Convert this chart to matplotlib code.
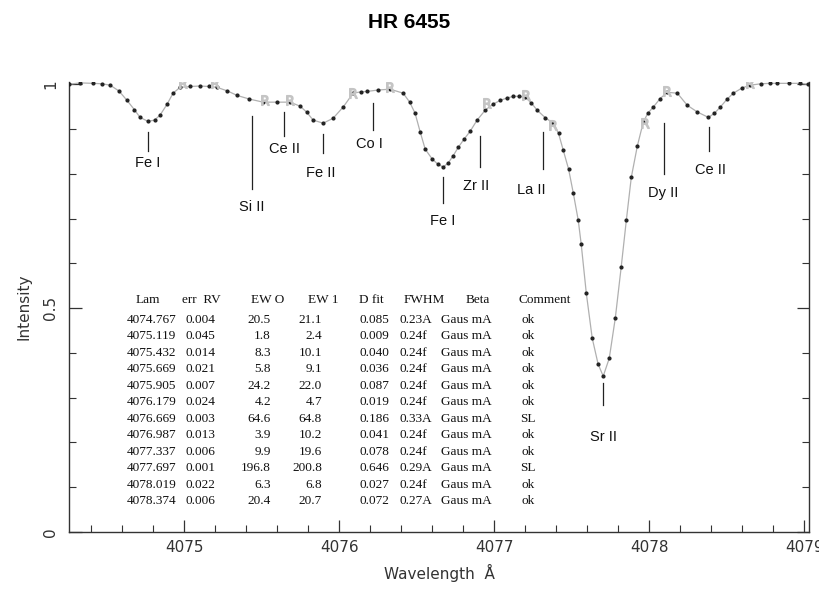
import matplotlib
matplotlib.use("Agg")
import matplotlib.pyplot as plt
from matplotlib.ticker import MultipleLocator, FixedLocator

wave = [4074.258, 4074.33, 4074.413, 4074.47, 4074.523, 4074.58, 4074.632, 4074.68,
        4074.716, 4074.768, 4074.81, 4074.845, 4074.89, 4074.929, 4074.974, 4075.04,
        4075.103, 4075.16, 4075.213, 4075.28, 4075.342, 4075.42, 4075.510, 4075.60,
        4075.684, 4075.748, 4075.79, 4075.832, 4075.897, 4075.961, 4076.026, 4076.090,
        4076.14, 4076.181, 4076.25, 4076.329, 4076.413, 4076.455, 4076.490, 4076.523,
        4076.555, 4076.600, 4076.635, 4076.671, 4076.703, 4076.735, 4076.768, 4076.805,
        4076.845, 4076.89, 4076.942, 4076.99, 4077.039, 4077.08, 4077.123, 4077.16,
        4077.200, 4077.24, 4077.277, 4077.33, 4077.381, 4077.415, 4077.445, 4077.48,
        4077.510, 4077.542, 4077.561, 4077.594, 4077.632, 4077.67, 4077.703, 4077.742,
        4077.781, 4077.819, 4077.852, 4077.884, 4077.923, 4077.961, 4077.99, 4078.026,
        4078.07, 4078.116, 4078.181, 4078.245, 4078.310, 4078.381, 4078.42, 4078.458,
        4078.50, 4078.542, 4078.60, 4078.652, 4078.72, 4078.78, 4078.826, 4078.90,
        4078.974, 4079.026]
flux = [1.000, 1.003, 1.002, 1.001, 0.998, 0.985, 0.964, 0.943,
        0.926, 0.917, 0.920, 0.931, 0.955, 0.980, 0.993, 0.995,
        0.996, 0.995, 0.993, 0.985, 0.975, 0.967, 0.960, 0.960,
        0.960, 0.951, 0.938, 0.920, 0.913, 0.924, 0.949, 0.980,
        0.983, 0.984, 0.987, 0.989, 0.980, 0.960, 0.935, 0.893,
        0.855, 0.833, 0.822, 0.815, 0.824, 0.840, 0.859, 0.877,
        0.895, 0.920, 0.942, 0.955, 0.964, 0.969, 0.973, 0.973,
        0.971, 0.958, 0.942, 0.925, 0.913, 0.890, 0.853, 0.810,
        0.757, 0.696, 0.643, 0.533, 0.433, 0.375, 0.348, 0.388,
        0.478, 0.592, 0.696, 0.792, 0.862, 0.915, 0.935, 0.949,
        0.968, 0.982, 0.980, 0.953, 0.938, 0.926, 0.935, 0.949,
        0.966, 0.980, 0.992, 0.998, 1.001, 1.002, 1.002, 1.002,
        1.002, 1.000]

# continuum / fit anchor points (the little "R" glyphs)
r_wave = [4074.994, 4075.200, 4075.523, 4075.684, 4076.090, 4076.329,
          4076.955, 4077.206, 4077.381, 4077.974, 4078.116, 4078.652]
r_flux = [1.002, 1.002, 0.964, 0.964, 0.980, 0.993,
          0.958, 0.975, 0.908, 0.913, 0.984, 1.002]

# line identifications: name, marker x, marker top, marker bottom, label x, label y
ion_names = ["Fe I", "Si II", "Ce II", "Fe II", "Co I", "Fe I",
             "Zr II", "La II", "Sr II", "Dy II", "Ce II"]
ion_x = [4074.768, 4075.439, 4075.645, 4075.897, 4076.219, 4076.671,
         4076.910, 4077.316, 4077.703, 4078.097, 4078.387]
ion_top = [0.893, 0.929, 0.9375, 0.888, 0.958, 0.792,
           0.884, 0.893, 0.333, 0.913, 0.904]
ion_bot = [0.850, 0.766, 0.884, 0.846, 0.897, 0.734,
           0.815, 0.810, 0.283, 0.799, 0.850]
ion_lx = [4074.768, 4075.439, 4075.645, 4075.88, 4076.194, 4076.671,
          4076.884, 4077.239, 4077.703, 4078.090, 4078.393]
ion_ly = [0.824, 0.725, 0.855, 0.801, 0.866, 0.694,
          0.772, 0.763, 0.212, 0.757, 0.808]

# fit table
tab_lam = ["4074.767", "4075.119", "4075.432", "4075.669", "4075.905", "4076.179",
           "4076.669", "4076.987", "4077.337", "4077.697", "4078.019", "4078.374"]
tab_err = ["0.004", "0.045", "0.014", "0.021", "0.007", "0.024",
           "0.003", "0.013", "0.006", "0.001", "0.022", "0.006"]
tab_ew0 = ["20.5", "1.8", "8.3", "5.8", "24.2", "4.2",
           "64.6", "3.9", "9.9", "196.8", "6.3", "20.4"]
tab_ew1 = ["21.1", "2.4", "10.1", "9.1", "22.0", "4.7",
           "64.8", "10.2", "19.6", "200.8", "6.8", "20.7"]
tab_dfit = ["0.085", "0.009", "0.040", "0.036", "0.087", "0.019",
            "0.186", "0.041", "0.078", "0.646", "0.027", "0.072"]
tab_fwhm = ["0.23A", "0.24f", "0.24f", "0.24f", "0.24f", "0.24f",
            "0.33A", "0.24f", "0.24f", "0.29A", "0.24f", "0.27A"]
tab_beta = ["Gaus mA"] * 12
tab_comm = ["ok", "ok", "ok", "ok", "ok", "ok", "SL", "ok", "ok", "SL", "ok", "ok"]

W, H = 819, 589
fig = plt.figure(figsize=(W / 100, H / 100), dpi=100)
ax = fig.add_axes([69 / W, 1 - 532 / H, (809 - 69) / W, (532 - 82) / H])

ax.plot(wave, flux, color="#b0b0b0", lw=0.9, zorder=2)
ax.plot(wave, flux, ls="none", marker="o", ms=2.0, color="#222222", zorder=3)
ax.plot(r_wave, r_flux, ls="none", marker=r"$\mathsf{R}$", ms=7,
        color="#c4c4c4", zorder=4)

for name, x, t, b, lx, ly in zip(ion_names, ion_x, ion_top, ion_bot, ion_lx, ion_ly):
    ax.plot([x, x], [b, t], color="#222222", lw=0.9)
    ax.text(lx, ly, name, ha="center", va="center", fontsize=10.5,
            family="Liberation Sans", color="#111111")

ax.set_xlim(4074.258, 4079.03)
ax.set_ylim(0, 1.005)

ax.xaxis.set_major_locator(FixedLocator([4075, 4076, 4077, 4078, 4079]))
ax.xaxis.set_minor_locator(MultipleLocator(0.2))
ax.yaxis.set_major_locator(FixedLocator([0, 0.5, 1]))
ax.yaxis.set_minor_locator(MultipleLocator(0.1))
ax.set_yticklabels(["0", "0.5", "1"], rotation=90, va="center")
ax.tick_params(which="both", direction="in", left=True, right=True,
               bottom=True, top=False, color="#333333")
ax.tick_params(which="major", length=9, width=0.9, labelsize=11,
               labelcolor="#333333", pad=6)
ax.tick_params(which="minor", length=5, width=0.8)
ax.tick_params(axis="y", which="major", pad=8)
for s in ["left", "right", "bottom"]:
    ax.spines[s].set_color("#333333")
    ax.spines[s].set_linewidth(1.0)
ax.spines["top"].set_visible(False)

ax.set_xlabel("Wavelength  Å", fontsize=11, color="#333333", labelpad=6)
ax.set_ylabel("Intensity", fontsize=11, color="#333333", labelpad=8)

fig.text(0.5, 1 - 22 / H, "HR 6455", ha="center", va="center", fontsize=15,
         weight="bold", family="Liberation Sans")

# table text
serif = dict(family="Liberation Serif", fontsize=9.5, color="#111111", va="center")
hy = 300
headers = [("Lam", 148, "center"), ("err  RV", 182, "left"), ("EW O", 268, "center"),
           ("EW 1", 323, "center"), ("D fit", 371, "center"), ("FWHM", 424, "center"),
           ("Beta", 478, "center"), ("Comment", 545, "center")]
for txt, x, ha in headers:
    fig.text(x / W, 1 - hy / H, txt, ha=ha, **serif)

cols = [(tab_lam, 127, "left"), (tab_err, 185, "left"), (tab_ew0, 271, "right"),
        (tab_ew1, 322, "right"), (tab_dfit, 359, "left"), (tab_fwhm, 400, "left"),
        (tab_beta, 466, "center"), (tab_comm, 528, "center")]
for i in range(len(tab_lam)):
    y = 320 + i * 16.45
    for vals, x, ha in cols:
        fig.text(x / W, 1 - y / H, vals[i], ha=ha, **serif)

fig.savefig("out.png", dpi=100)
